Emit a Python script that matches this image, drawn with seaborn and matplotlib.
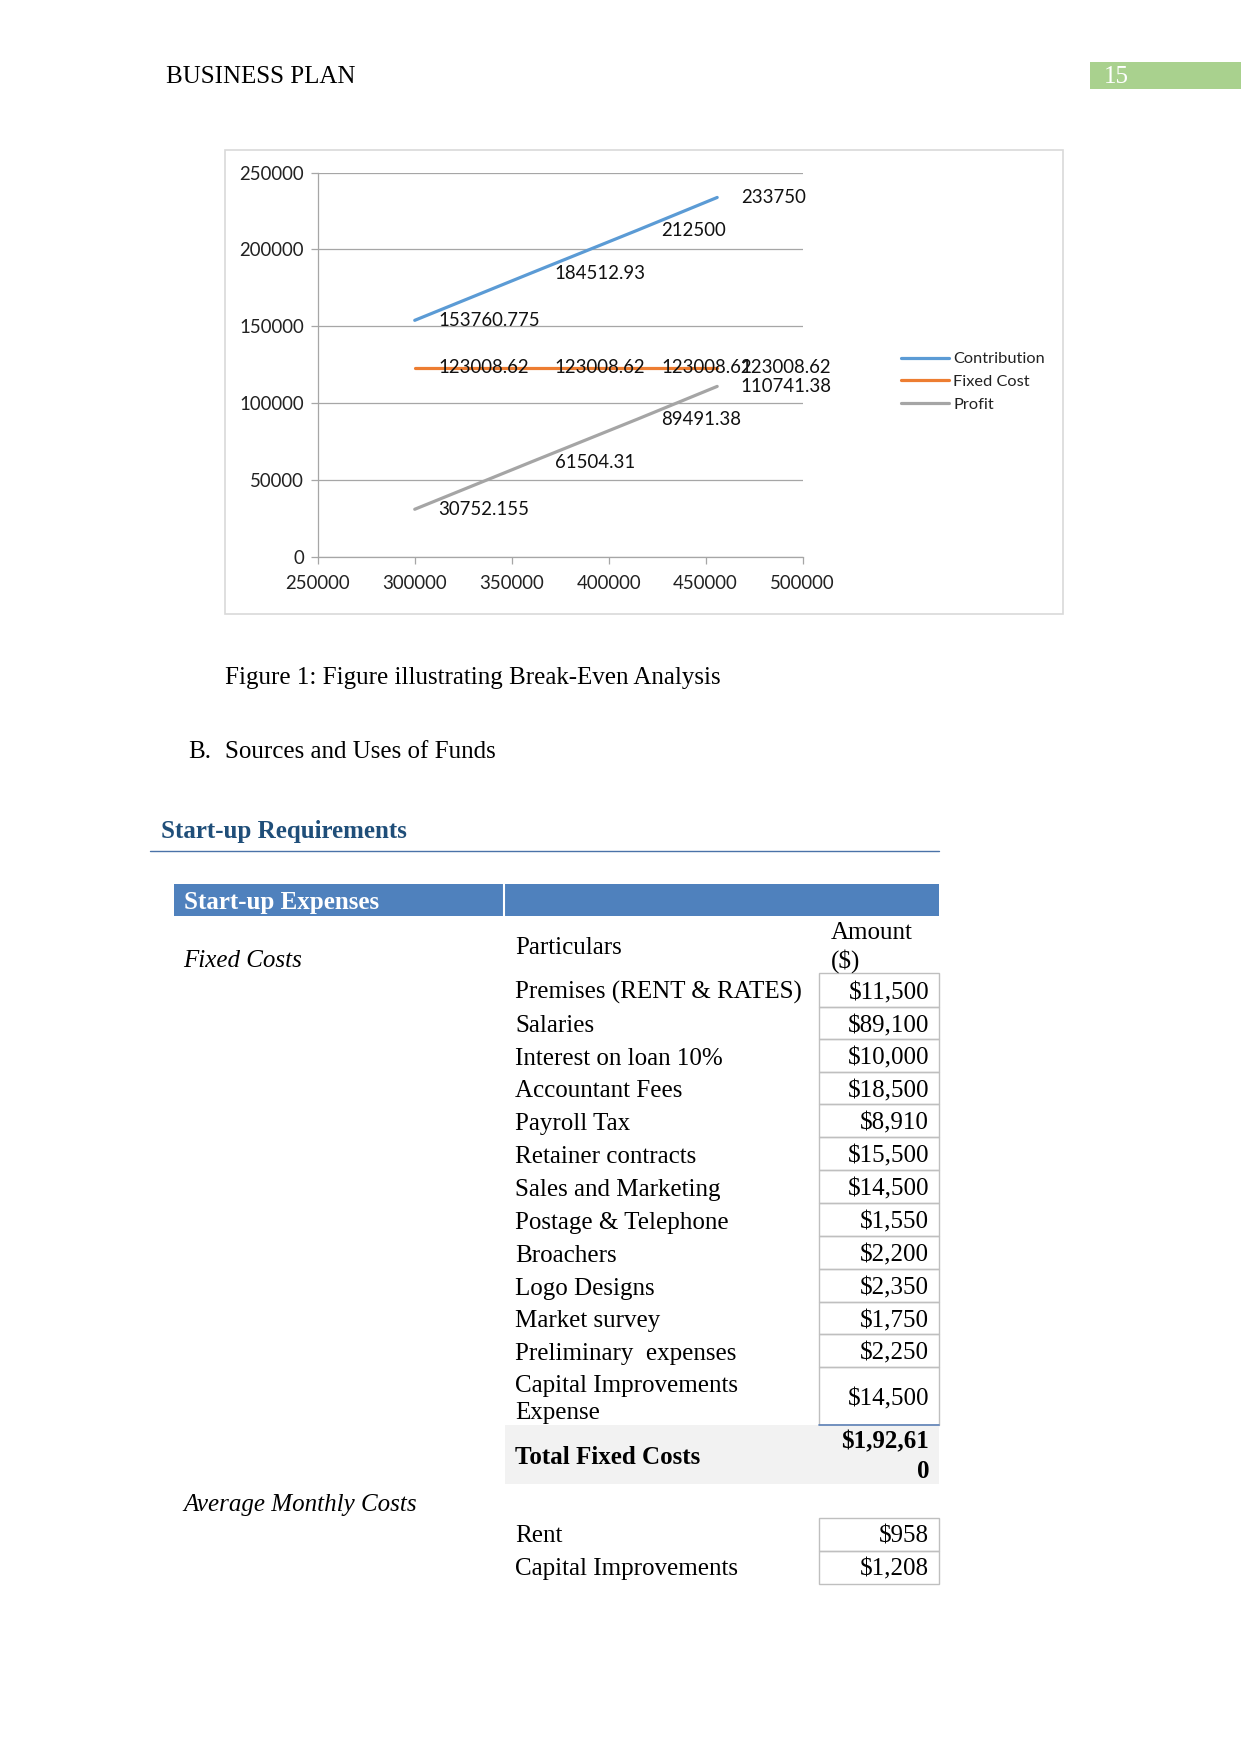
import matplotlib
matplotlib.use("Agg")
import matplotlib.pyplot as plt
import matplotlib.patches as mpatches
import seaborn as sns
import pandas as pd

# ---------------- data ----------------
sales = [300000, 360000, 415000, 456000]
contribution = [153760.775, 184512.93, 212500, 233750]
fixed_cost = [123008.62, 123008.62, 123008.62, 123008.62]
profit = [30752.155, 61504.31, 89491.38, 110741.38]
contribution_labels = ["153760.775", "184512.93", "212500", "233750"]
fixed_cost_labels = ["123008.62", "123008.62", "123008.62", "123008.62"]
profit_labels = ["30752.155", "61504.31", "89491.38", "110741.38"]
series_names = ["Contribution", "Fixed Cost", "Profit"]
series_colors = ["#5B9BD5", "#ED7D31", "#A5A5A5"]
x_ticks = [250000, 300000, 350000, 400000, 450000, 500000]
x_tick_labels = ["250000", "300000", "350000", "400000", "450000", "500000"]
y_ticks = [0, 50000, 100000, 150000, 200000, 250000]
y_tick_labels = ["0", "50000", "100000", "150000", "200000", "250000"]

particulars = ["Premises (RENT & RATES)", "Salaries", "Interest on loan 10%",
               "Accountant Fees", "Payroll Tax", "Retainer contracts",
               "Sales and Marketing", "Postage & Telephone", "Broachers",
               "Logo Designs", "Market survey", "Preliminary  expenses",
               "Capital Improvements\nExpense"]
amounts = ["$11,500", "$89,100", "$10,000", "$18,500", "$8,910", "$15,500",
           "$14,500", "$1,550", "$2,200", "$2,350", "$1,750", "$2,250", "$14,500"]
total_label = "Total Fixed Costs"
total_amount = "$1,92,61\n0"
monthly_items = ["Rent", "Capital Improvements"]
monthly_amounts = ["$958", "$1,208"]

# ---------------- page ----------------
W, H = 1241, 1754
sns.set_theme(style="white")
plt.rcParams["font.family"] = ["Liberation Serif", "DejaVu Serif"]
SERIF = ["Liberation Serif", "DejaVu Serif"]
SANS = ["Lato", "DejaVu Sans"]
BODY = 18

fig = plt.figure(figsize=(W / 100, H / 100), dpi=100)
fig.patch.set_facecolor("white")
page = fig.add_axes([0, 0, 1, 1], zorder=0)
page.set_xlim(0, W)
page.set_ylim(H, 0)
page.axis("off")


def txt(x, y, s, **kw):
    kw.setdefault("fontsize", BODY)
    kw.setdefault("family", SERIF)
    kw.setdefault("va", "baseline")
    kw.setdefault("color", "black")
    page.text(x, y, s, **kw)


def rect(x0, y0, x1, y1, **kw):
    page.add_patch(mpatches.Rectangle((x0, y0), x1 - x0, y1 - y0, **kw))


# header
txt(166, 83, "BUSINESS PLAN")
rect(1090, 61.5, 1241, 88.5, facecolor="#A9D18E", edgecolor="none")
txt(1104, 83, "15", color="white")

# chart frame
rect(225, 150, 1063, 614, facecolor="white", edgecolor="#D9D9D9", lw=1.2)

# caption and headings
txt(225, 684, "Figure 1: Figure illustrating Break-Even Analysis")
txt(188, 758, "B.")
txt(225, 758, "Sources and Uses of Funds")
txt(161, 838, "Start-up Requirements", color="#1F4E79", weight="bold")
page.plot([150, 939], [850.5, 850.5], color="#4A72A8", lw=1.0)

# table header bar
rect(173.5, 884, 939, 915.5, facecolor="#4F81BD", edgecolor="none")
page.plot([503.5, 503.5], [884, 915.5], color="white", lw=1.5)
txt(183.5, 909, "Start-up Expenses", color="white", weight="bold")

txt(183.5, 967, "Fixed Costs", style="italic")
txt(515, 953.5, "Particulars")
txt(831, 939, "Amount")
txt(831, 968, "($)")

# rows
row_edges = [973.3, 1006.7, 1039.3, 1072.3, 1104.3, 1137.3, 1170, 1203.3,
             1236, 1269.3, 1301.7, 1334.3, 1367.3, 1425]
for i, (p, a) in enumerate(zip(particulars, amounts)):
    y0, y1 = row_edges[i], row_edges[i + 1]
    rect(819.3, y0, 939.3, y1, facecolor="none", edgecolor="#BFBFBF", lw=1.0)
    yc = (y0 + y1) / 2
    lines = p.split("\n")
    if len(lines) > 1:
        for k, ln in enumerate(lines):
            txt(515, yc - 4.5 + 27.8 * k, ln)
        txt(929, yc + 9, a, ha="right")
    else:
        txt(515, yc + 9, p)
        txt(929, yc + 9, a, ha="right")

# total row
rect(504.7, 1425, 939.3, 1484, facecolor="#F2F2F2", edgecolor="none")
page.plot([819.3, 939.3], [1425, 1425], color="#5B7FB5", lw=1.2)
txt(515, 1463.5, total_label, weight="bold")
for k, ln in enumerate(total_amount.split("\n")):
    txt(929, 1448 + 30 * k, ln, ha="right", weight="bold")

txt(183.5, 1511, "Average Monthly Costs", style="italic")
m_edges = [1517.5, 1551, 1584]
for i, (m, a) in enumerate(zip(monthly_items, monthly_amounts)):
    y0, y1 = m_edges[i], m_edges[i + 1]
    rect(819.3, y0, 939.3, y1, facecolor="none", edgecolor="#BFBFBF", lw=1.0)
    yc = (y0 + y1) / 2
    txt(515, yc + 8, m)
    txt(929, yc + 8, a, ha="right")

# ---------------- chart ----------------
ax_l, ax_r, ax_t, ax_b = 317.8, 802.5, 172.5, 556.5
ax = fig.add_axes([ax_l / W, 1 - ax_b / H, (ax_r - ax_l) / W, (ax_b - ax_t) / H],
                  zorder=2)
ax.patch.set_alpha(0)

df = pd.DataFrame({
    "Sales": sales * 3,
    "Amount": contribution + fixed_cost + profit,
    "Series": [series_names[0]] * len(sales) + [series_names[1]] * len(sales)
              + [series_names[2]] * len(sales),
})
sns.lineplot(data=df, x="Sales", y="Amount", hue="Series", hue_order=series_names,
             palette=series_colors, estimator=None, sort=False, linewidth=2.3,
             ax=ax, solid_capstyle="round")

ax.set_xlim(x_ticks[0], x_ticks[-1])
ax.set_ylim(y_ticks[0], y_ticks[-1])
ax.set_xticks(x_ticks)
ax.set_xticklabels(x_tick_labels)
ax.set_yticks(y_ticks)
ax.set_yticklabels(y_tick_labels)
ax.set_xlabel("")
ax.set_ylabel("")
ax.yaxis.grid(True, color="#A6A6A6", lw=0.9)
ax.xaxis.grid(False)
ax.set_axisbelow(True)
for s in ["top", "right"]:
    ax.spines[s].set_visible(False)
for s in ["left", "bottom"]:
    ax.spines[s].set_visible(True)
    ax.spines[s].set_color("#A6A6A6")
    ax.spines[s].set_linewidth(0.9)
ax.tick_params(axis="x", direction="out", length=5, width=0.9, color="#A6A6A6",
               pad=8, labelsize=13.4, labelcolor="#222222", bottom=True)
ax.tick_params(axis="y", direction="out", length=5, width=0.9, color="#A6A6A6",
               pad=5, labelsize=13.4, labelcolor="#222222", left=True)
for lab in ax.get_xticklabels() + ax.get_yticklabels():
    lab.set_family(SANS)

for vals, labs in [(contribution, contribution_labels), (fixed_cost, fixed_cost_labels),
                   (profit, profit_labels)]:
    for xv, yv, lb in zip(sales, vals, labs):
        ax.annotate(lb, (xv, yv), xytext=(17, 0), textcoords="offset points",
                    ha="left", va="center", fontsize=13.4, family=SANS,
                    color="#111111", zorder=5, annotation_clip=False)

sns.move_legend(ax, "upper left", bbox_to_anchor=(901 / W, 1 - 352 / H),
                bbox_transform=fig.transFigure, frameon=False, title=None,
                fontsize=11.8, handlelength=2.9, handletextpad=0.3,
                labelspacing=0.5, borderpad=0, borderaxespad=0)
leg = ax.get_legend()
for t in leg.get_texts():
    t.set_family(SANS)
    t.set_color("#222222")
for h in leg.get_lines():
    h.set_linewidth(2.3)

fig.savefig("out.png", dpi=100, facecolor="white")
